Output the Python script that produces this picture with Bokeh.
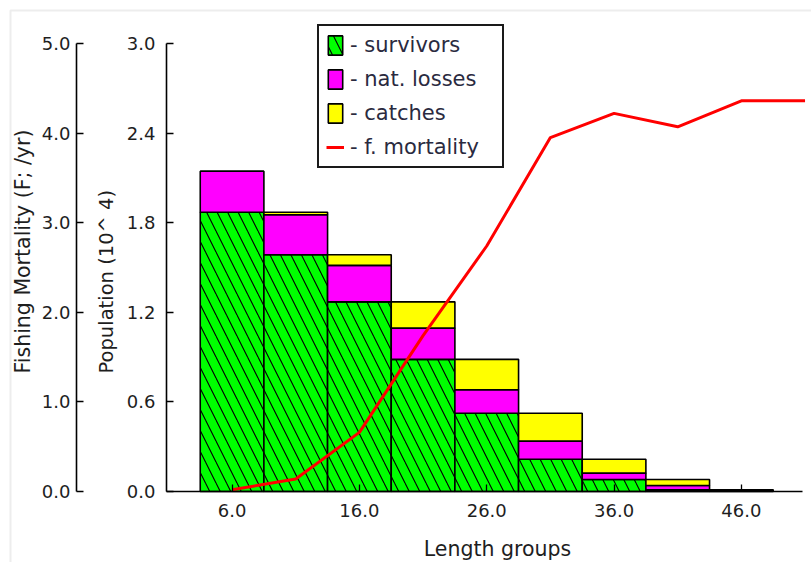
import numpy as np
from bokeh.plotting import figure
from bokeh.models import (LinearAxis, Range1d, FixedTicker, NumeralTickFormatter,
                          Legend, LegendItem, Label, BoxAnnotation, ColumnDataSource)
from bokeh.embed import file_html
from bokeh.resources import INLINE

# Length-group centres and the population split per group (10^4 fish)
length_groups = [6, 11, 16, 21, 26, 31, 36, 41, 46]
survivors = [1.870, 1.585, 1.270, 0.885, 0.524, 0.216, 0.080, 0.011, 0.002]
nat_losses = [0.275, 0.268, 0.244, 0.209, 0.157, 0.121, 0.043, 0.029, 0.004]
catches = [0.000, 0.017, 0.071, 0.176, 0.204, 0.187, 0.093, 0.040, 0.005]
group_width = 5

# Fishing mortality by length (F; /yr)
f_lengths = [6, 11, 16, 21, 26, 31, 36, 41, 46, 51]
f_mortality = [0.02, 0.14, 0.66, 1.74, 2.74, 3.95, 4.22, 4.07, 4.36, 4.36]

# Tick positions
x_ticks = [6, 16, 26, 36, 46]
pop_ticks = [0.0, 0.6, 1.2, 1.8, 2.4, 3.0]
f_ticks = [0, 1, 2, 3, 4, 5]

FONT = "DejaVu Sans"
TXT = "#1e1e1e"

# The plotting frame covers the whole canvas; the axes are pinned inside it.
W, H = 811, 562
AX_L, AX_R, AX_T, AX_B = 166, 802, 43, 491      # canvas pixels of the axis box
X0, X1 = 0.85, 50.8                              # length range spanned by the x axis
P0, P1 = 0.0, 3.0                                # population axis
F0, F1 = 0.0, 5.0                                # fishing mortality axis
SX = (AX_R - AX_L) / (X1 - X0)
SP = (AX_B - AX_T) / (P1 - P0)
SF = (AX_B - AX_T) / (F1 - F0)


def cx(px):
    """canvas x pixel -> length value"""
    return X0 + (px - AX_L) / SX


def cy(py):
    """canvas y pixel -> population value"""
    return P0 + (AX_B - py) / SP


def cf(py):
    """canvas y pixel -> fishing mortality value"""
    return F0 + (AX_B - py) / SF


s_top = np.array(survivors)
n_top = s_top + np.array(nat_losses)
c_top = n_top + np.array(catches)
src = ColumnDataSource(dict(x=length_groups, s_top=s_top, n_top=n_top, c_top=c_top))

p = figure(width=W, height=H, x_range=Range1d(cx(0), cx(W)), y_range=Range1d(cy(H), cy(0)),
           output_backend="svg", toolbar_location=None,
           min_border_left=0, min_border_right=0, min_border_top=0, min_border_bottom=0)
p.extra_y_ranges = {"F": Range1d(cf(H), cf(0))}
p.xgrid.visible = False
p.ygrid.visible = False
p.outline_line_color = None
p.background_fill_color = "white"
p.border_fill_color = "white"


def style_axis(ax, size="18px"):
    ax.axis_line_color = "black"
    ax.axis_line_width = 1.6
    ax.major_tick_line_color = "black"
    ax.major_tick_line_width = 1.3
    ax.major_tick_in = 7
    ax.major_tick_out = 0
    ax.minor_tick_line_color = None
    ax.major_label_text_font = FONT
    ax.major_label_text_font_size = size
    ax.major_label_text_color = TXT
    ax.formatter = NumeralTickFormatter(format="0.0")


# bottom axis along population 0
xa = p.xaxis[0]
style_axis(xa)
xa.ticker = FixedTicker(ticks=x_ticks)
xa.major_label_standoff = 12
xa.fixed_location = P0
xa.bounds = (X0, X1)

# population axis at the left edge of the axis box
ya = p.yaxis[0]
style_axis(ya)
ya.ticker = FixedTicker(ticks=pop_ticks)
ya.major_label_standoff = 11
ya.fixed_location = X0
ya.bounds = (P0, P1)

# fishing mortality axis further left
fa = LinearAxis(y_range_name="F")
style_axis(fa)
fa.ticker = FixedTicker(ticks=f_ticks)
fa.major_label_standoff = 6
fa.fixed_location = cx(76)
fa.bounds = (F0, F1)
p.add_layout(fa, "left")

# stacked bars
bar_kw = dict(x="x", width=group_width, source=src, line_color="black", line_width=1.6)
r_surv = p.vbar(bottom=0, top="s_top", fill_color="#00ff00",
                hatch_pattern="\\", hatch_color="black", hatch_scale=21, hatch_weight=1.1,
                **bar_kw)
r_nat = p.vbar(bottom="s_top", top="n_top", fill_color="#ff00ff", **bar_kw)
r_cat = p.vbar(bottom="n_top", top="c_top", fill_color="#ffff00", **bar_kw)

# fishing mortality curve
r_f = p.line(f_lengths, f_mortality, y_range_name="F", line_color="#ff0000", line_width=3)

# legend box: left edge at canvas x 317, bottom at canvas y 168
legend = Legend(items=[
    LegendItem(label="- survivors", renderers=[r_surv]),
    LegendItem(label="- nat. losses", renderers=[r_nat]),
    LegendItem(label="- catches", renderers=[r_cat]),
    LegendItem(label="- f. mortality", renderers=[r_f]),
], location=(317, H - 168))
legend.label_text_font = FONT
legend.label_text_font_size = "21px"
legend.label_text_color = "#2a2a40"
legend.glyph_width = 18
legend.glyph_height = 24
legend.label_height = 24
legend.label_width = 145
legend.label_standoff = 6
legend.spacing = 10
legend.padding = 7
legend.margin = 0
legend.border_line_color = "#1a1a1a"
legend.border_line_alpha = 1.0
legend.border_line_width = 2
legend.background_fill_color = "white"
legend.background_fill_alpha = 1.0
p.add_layout(legend, "center")

# axis titles
p.add_layout(Label(x=cx(22.5), y=cy(373), text="Fishing Mortality (F; /yr)",
                   angle=np.pi / 2, text_align="left", text_baseline="middle",
                   text_font=FONT, text_font_size="20.5px", text_color=TXT))
p.add_layout(Label(x=cx(106), y=cy(373), text="Population (10^ 4)",
                   angle=np.pi / 2, text_align="left", text_baseline="middle",
                   text_font=FONT, text_font_size="19.5px", text_color=TXT))
p.add_layout(Label(x=cx(497), y=cy(548), text="Length groups",
                   text_align="center", text_baseline="middle",
                   text_font=FONT, text_font_size="20.5px", text_color=TXT))

# light window frame around the chart
p.add_layout(BoxAnnotation(left=cx(10), right=cx(W + 40), top=cy(10), bottom=cy(H + 40),
                           fill_color=None, fill_alpha=0, line_color="#c4c4c4",
                           line_width=2))

open("out.html", "w").write(file_html(p, INLINE))
